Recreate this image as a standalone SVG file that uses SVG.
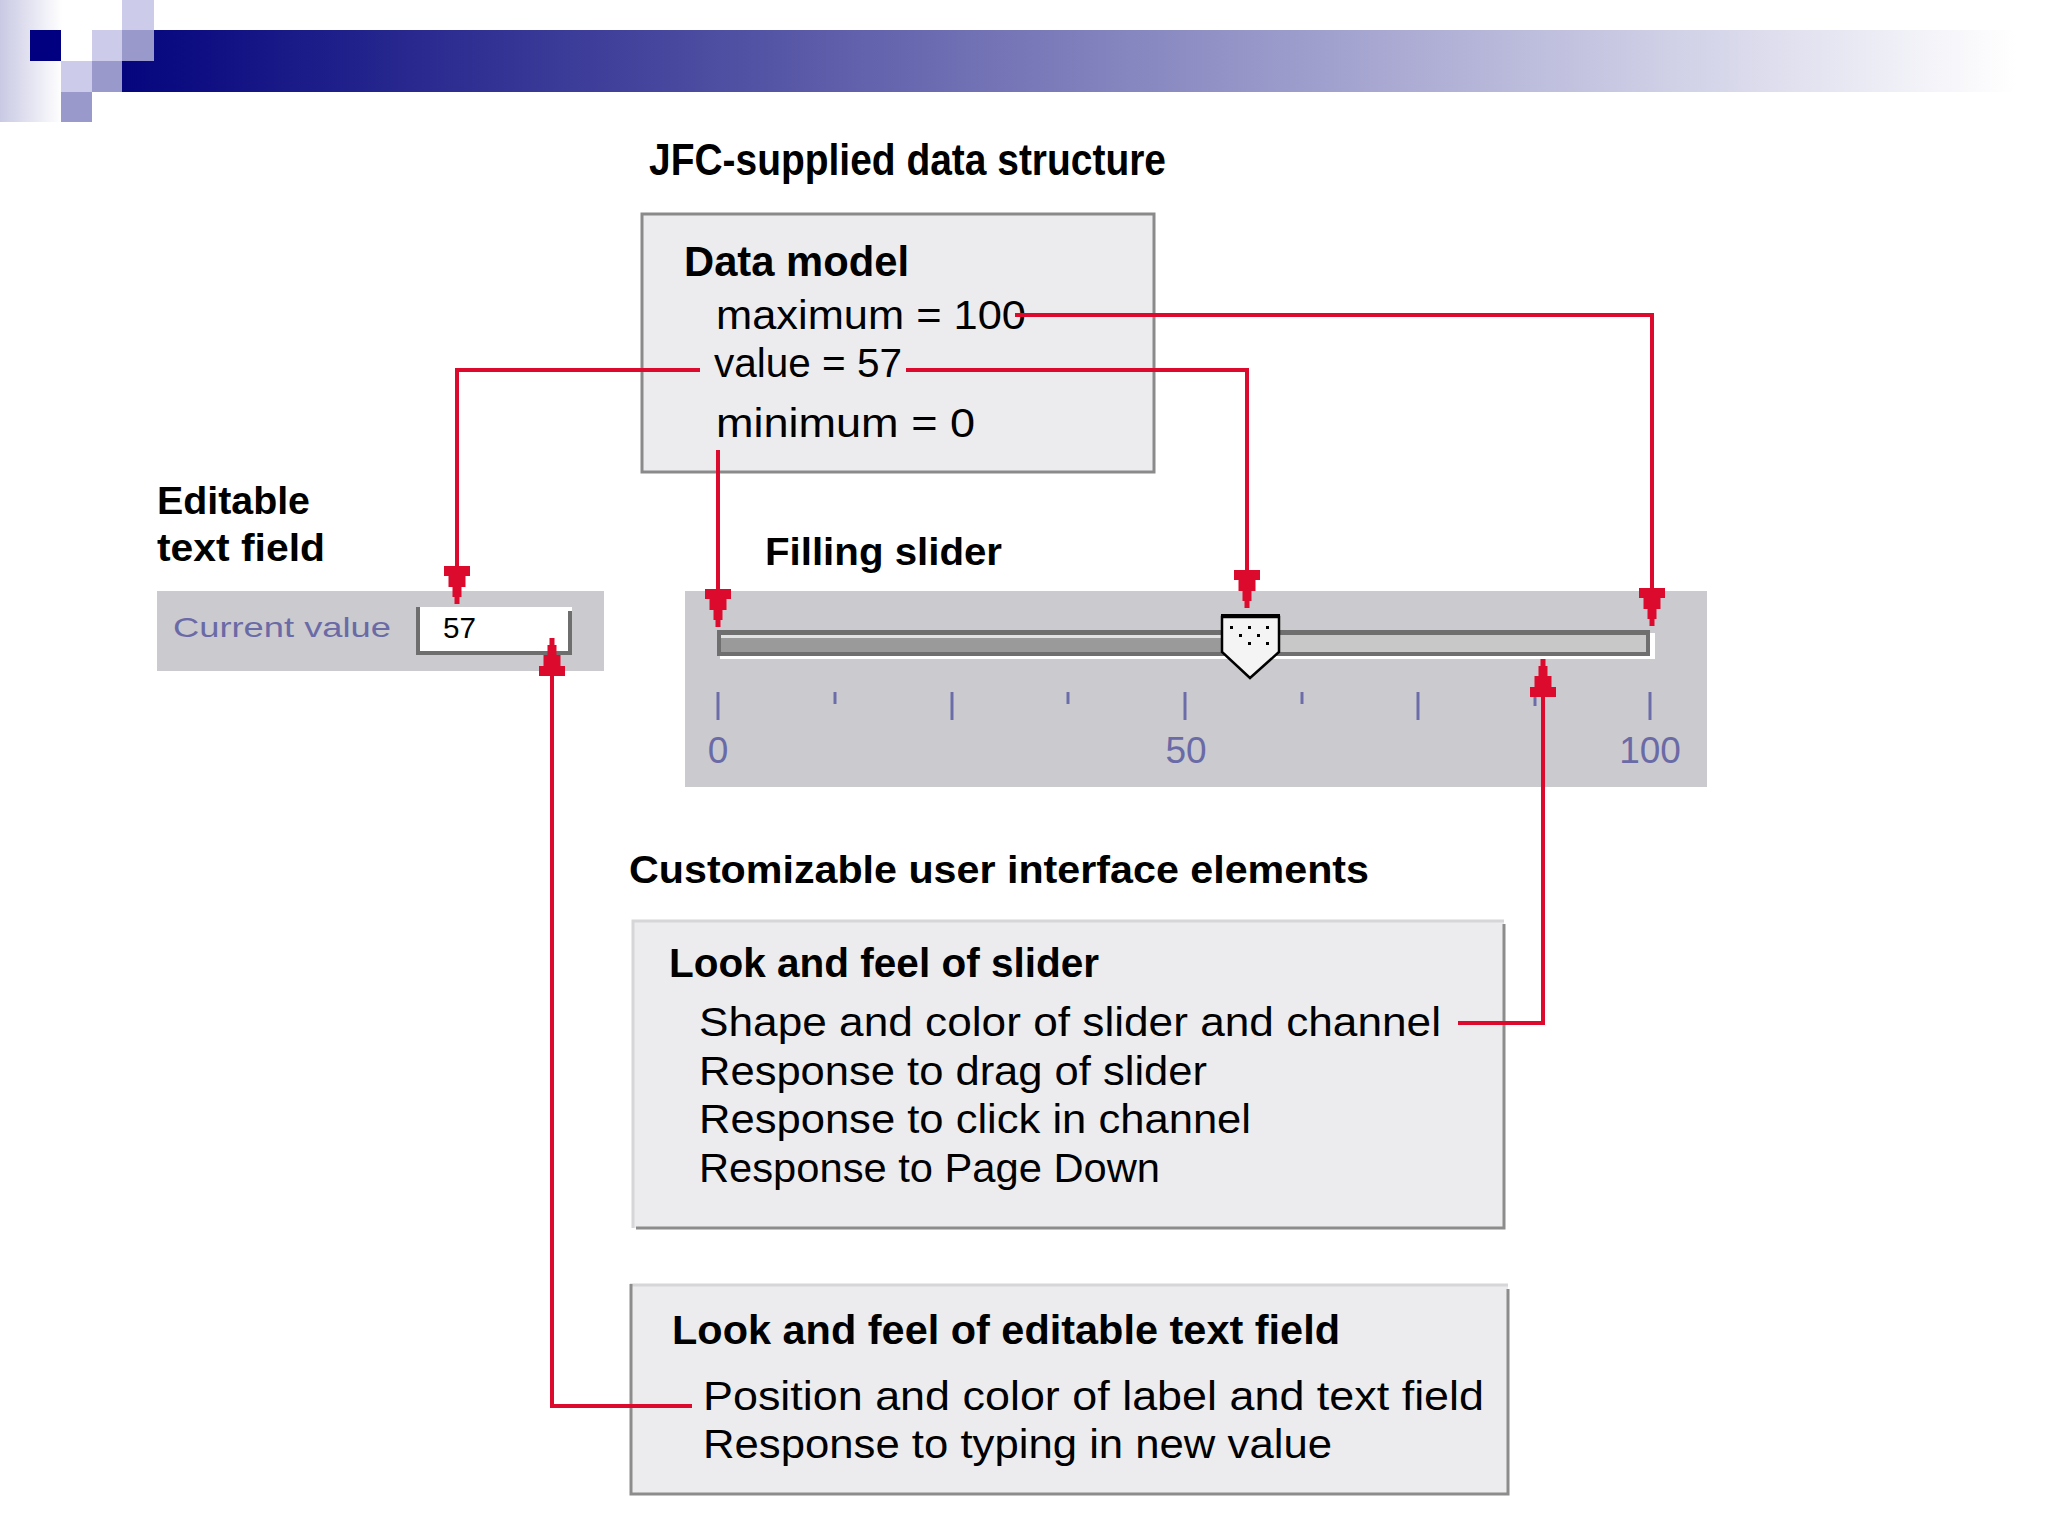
<svg xmlns="http://www.w3.org/2000/svg" width="2048" height="1536" viewBox="0 0 2048 1536">
  <defs>
    <linearGradient id="barGrad" x1="122" y1="0" x2="2015" y2="0" gradientUnits="userSpaceOnUse">
      <stop offset="0" stop-color="#05057e"/>
      <stop offset="0.3" stop-color="#4a4aa0"/>
      <stop offset="0.65" stop-color="#a4a4d0"/>
      <stop offset="1" stop-color="#ffffff"/>
    </linearGradient>
    <linearGradient id="leftGrad" x1="0" y1="0" x2="62" y2="0" gradientUnits="userSpaceOnUse">
      <stop offset="0" stop-color="#c9c9e4"/>
      <stop offset="1" stop-color="#ffffff"/>
    </linearGradient>
    <marker id="arr" markerUnits="userSpaceOnUse" viewBox="-40 -15 40 30" refX="0" refY="0" markerWidth="40" markerHeight="30" orient="auto">
      <path d="M-38,-13 L-28,-13 L-28,-8.5 L-17,-8.5 L-17,-4.5 L-7,-4.5 L-7,-2.5 L0,-2.5 L0,2.5 L-7,2.5 L-7,4.5 L-17,4.5 L-17,8.5 L-28,8.5 L-28,13 L-38,13 Z" fill="#dc0a2d"/>
    </marker>
  </defs>
  <style>
    .head { font-family: "Liberation Sans", Arial, sans-serif; font-weight: bold; fill: #000; }
    .body { font-family: "Liberation Sans", Arial, sans-serif; fill: #000; }
    .blue { font-family: "Liberation Sans", Arial, sans-serif; fill: #6a6aa6; }
    .box { fill: #ececef; }
    .panel { fill: #cbcbcf; }
    .tick { stroke: #6c6ca8; stroke-width: 3; }
    .conn { fill: none; stroke: #dc0a2d; stroke-width: 4; marker-end: url(#arr); }
  </style>

  <rect width="2048" height="1536" fill="#ffffff"/>

  <g id="header">
    <rect x="0" y="0" width="62" height="122" fill="url(#leftGrad)"/>
    <rect x="122" y="30" width="1893" height="62" fill="url(#barGrad)"/>
    <rect x="122" y="0" width="32" height="30" fill="#ccccea"/>
    <rect x="30" y="30" width="31" height="31" fill="#000080"/>
    <rect x="92" y="30" width="30" height="31" fill="#ccccea"/>
    <rect x="122" y="30" width="32" height="31" fill="#9999cc"/>
    <rect x="61" y="61" width="31" height="31" fill="#ccccea"/>
    <rect x="92" y="61" width="30" height="31" fill="#9999cc"/>
    <rect x="61" y="92" width="31" height="30" fill="#9999cc"/>
  </g>

  <g id="title">
    <text class="head" x="649" y="175" font-size="44" textLength="517" lengthAdjust="spacingAndGlyphs">JFC-supplied data structure</text>
  </g>

  <g id="data-model">
    <rect class="box" x="642" y="214" width="512" height="258" stroke="#8a8a8a" stroke-width="3"/>
    <text class="head" x="684" y="276" font-size="43" textLength="225" lengthAdjust="spacingAndGlyphs">Data model</text>
    <text class="body" x="716" y="329" font-size="40" textLength="310" lengthAdjust="spacingAndGlyphs">maximum = 100</text>
    <text class="body" x="714" y="377" font-size="40" textLength="188" lengthAdjust="spacingAndGlyphs">value = 57</text>
    <text class="body" x="716" y="437" font-size="40" textLength="259" lengthAdjust="spacingAndGlyphs">minimum = 0</text>
  </g>

  <g id="text-field-label">
    <text class="head" x="157" y="514" font-size="39" textLength="153" lengthAdjust="spacingAndGlyphs">Editable</text>
    <text class="head" x="157" y="561" font-size="39" textLength="168" lengthAdjust="spacingAndGlyphs">text field</text>
  </g>

  <g id="text-field">
    <rect class="panel" x="157" y="591" width="447" height="80"/>
    <text class="blue" x="173" y="637" font-size="28" textLength="218" lengthAdjust="spacingAndGlyphs">Current value</text>
    <rect x="416" y="607" width="156" height="48" fill="#ffffff"/>
    <rect x="416" y="607" width="4" height="48" fill="#6e6e6e"/>
    <rect x="416" y="651" width="156" height="4" fill="#6e6e6e"/>
    <rect x="568" y="611" width="4" height="44" fill="#6e6e6e"/>
    <text class="body" x="443" y="638" font-size="30" textLength="33" lengthAdjust="spacingAndGlyphs">57</text>
  </g>

  <g id="slider-label">
    <text class="head" x="765" y="565" font-size="38" textLength="237" lengthAdjust="spacingAndGlyphs">Filling slider</text>
  </g>

  <g id="slider">
    <rect class="panel" x="685" y="591" width="1022" height="196"/>
    <rect x="720" y="633" width="935" height="26" fill="#ffffff"/>
    <rect x="717" y="630" width="933" height="26" fill="#6f6f6f"/>
    <rect x="721" y="635" width="925" height="17" fill="#c8c8c8"/>
    <rect x="721" y="635" width="501" height="3" fill="#e2e2e2"/>
    <rect x="721" y="638" width="501" height="14" fill="#9a9a9a"/>
    <g id="thumb">
      <path d="M1222,617 H1279 V652 L1250,678 L1222,652 Z" fill="#f4f4f4" stroke="#000" stroke-width="2.5"/>
      <rect x="1221" y="614" width="59" height="4" fill="#000"/>
      <g fill="#000">
        <rect x="1230" y="626" width="3" height="3"/>
        <rect x="1248" y="626" width="3" height="3"/>
        <rect x="1266" y="626" width="3" height="3"/>
        <rect x="1239" y="634" width="3" height="3"/>
        <rect x="1257" y="634" width="3" height="3"/>
        <rect x="1248" y="642" width="3" height="3"/>
        <rect x="1266" y="642" width="3" height="3"/>
      </g>
    </g>
    <line class="tick" x1="718" y1="692" x2="718" y2="720"/>
    <line class="tick" x1="835" y1="692" x2="835" y2="704"/>
    <line class="tick" x1="952" y1="692" x2="952" y2="720"/>
    <line class="tick" x1="1068" y1="692" x2="1068" y2="704"/>
    <line class="tick" x1="1185" y1="692" x2="1185" y2="720"/>
    <line class="tick" x1="1302" y1="692" x2="1302" y2="704"/>
    <line class="tick" x1="1418" y1="692" x2="1418" y2="720"/>
    <line class="tick" x1="1535" y1="692" x2="1535" y2="706"/>
    <line class="tick" x1="1650" y1="692" x2="1650" y2="720"/>
    <text class="blue" x="718" y="763" font-size="37" text-anchor="middle">0</text>
    <text class="blue" x="1186" y="763" font-size="37" text-anchor="middle">50</text>
    <text class="blue" x="1650" y="763" font-size="37" text-anchor="middle">100</text>
  </g>

  <g id="customizable-title">
    <text class="head" x="629" y="883" font-size="38" textLength="740" lengthAdjust="spacingAndGlyphs">Customizable user interface elements</text>
  </g>

  <g id="slider-laf">
    <rect class="box" x="633" y="921" width="871" height="307"/>
    <path d="M633,1228 V921 H1504" fill="none" stroke="#d6d6d8" stroke-width="3"/>
    <path d="M636,1228 H1504 V924" fill="none" stroke="#8c8c8c" stroke-width="3"/>
    <text class="head" x="669" y="977" font-size="40" textLength="430" lengthAdjust="spacingAndGlyphs">Look and feel of slider</text>
    <text class="body" x="699" y="1036" font-size="40" textLength="742" lengthAdjust="spacingAndGlyphs">Shape and color of slider and channel</text>
    <text class="body" x="699" y="1085" font-size="40" textLength="508" lengthAdjust="spacingAndGlyphs">Response to drag of slider</text>
    <text class="body" x="699" y="1133" font-size="40" textLength="552" lengthAdjust="spacingAndGlyphs">Response to click in channel</text>
    <text class="body" x="699" y="1182" font-size="40" textLength="461" lengthAdjust="spacingAndGlyphs">Response to Page Down</text>
  </g>

  <g id="textfield-laf">
    <rect class="box" x="630" y="1285" width="878" height="209"/>
    <path d="M630,1285 H1508" fill="none" stroke="#d6d6d8" stroke-width="3"/>
    <path d="M631,1284 V1494 H1508 V1289" fill="none" stroke="#8c8c8c" stroke-width="3"/>
    <text class="head" x="672" y="1344" font-size="40" textLength="668" lengthAdjust="spacingAndGlyphs">Look and feel of editable text field</text>
    <text class="body" x="703" y="1410" font-size="40" textLength="781" lengthAdjust="spacingAndGlyphs">Position and color of label and text field</text>
    <text class="body" x="703" y="1458" font-size="40" textLength="629" lengthAdjust="spacingAndGlyphs">Response to typing in new value</text>
  </g>

  <g id="connectors">
    <path class="conn" d="M700,370 H457 V604"/>
    <path class="conn" d="M718,450 V627"/>
    <path class="conn" d="M906,370 H1247 V608"/>
    <path class="conn" d="M1015,315 H1652 V626"/>
    <path class="conn" d="M1458,1023 H1543 V659"/>
    <path class="conn" d="M692,1406 H552 V638"/>
  </g>
</svg>
